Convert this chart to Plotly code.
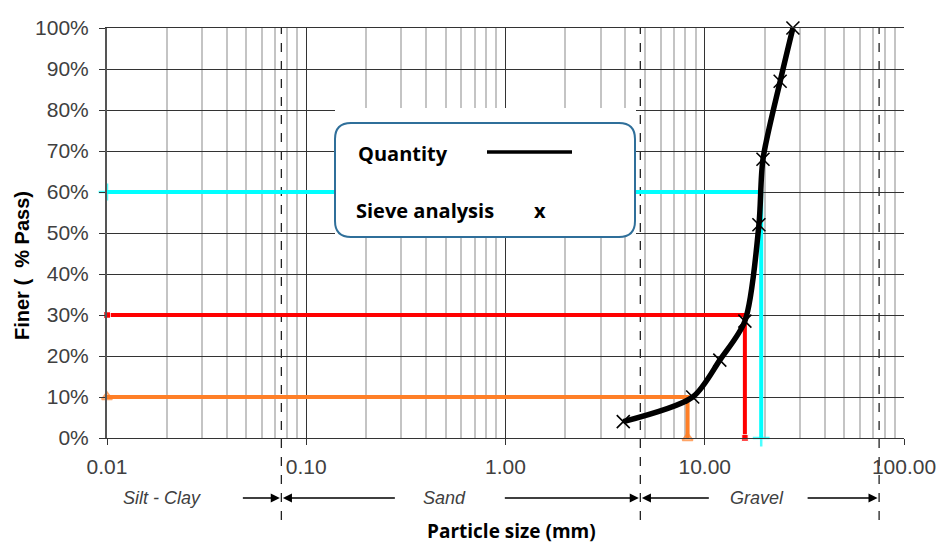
import numpy as np
import plotly.graph_objects as go

# ---- data ----
sieve_size_mm = [3.9, 8.7, 11.9, 15.9, 18.7, 19.6, 23.9, 27.7]
percent_passing = [4, 10, 19, 28.5, 52, 68, 87, 100]

d10, d30, d60 = 8.2, 15.9, 19.2
boundaries_mm = [0.075, 4.75, 75]

x_tickvals = [0.01, 0.1, 1, 10, 100]
x_ticktext = ["0.01", "0.10", "1.00", "10.00", "100.00"]
y_tickvals = [0, 10, 20, 30, 40, 50, 60, 70, 80, 90, 100]
y_ticktext = [f"{v}%" for v in y_tickvals]

zone_labels = ["Silt - Clay", "Sand", "Gravel"]

# ---- geometry helpers ----
W, H = 938, 543
ML, MR, MT, MB = 107, 34, 28, 105
PW, PH = W - ML - MR, H - MT - MB


def px(xp):
    return (xp - ML) / PW


def py(yp):
    return (H - MB - yp) / PH


fig = go.Figure()

# D-lines
fig.add_trace(go.Scatter(
    x=[0.01, d60, d60], y=[60, 60, 0], mode="lines+markers",
    line=dict(color="#00ffff", width=4),
    marker=dict(symbol="cross-thin-open", size=[12, 0, 12], line=dict(color="#00ffff", width=2.5)),
    cliponaxis=False, showlegend=False, hoverinfo="skip"))
fig.add_trace(go.Scatter(
    x=[0.01, d30, d30], y=[30, 30, 0], mode="lines+markers",
    line=dict(color="#ff0000", width=4),
    marker=dict(symbol="square", size=[7, 0, 7], color="#ff0000"),
    cliponaxis=False, showlegend=False, hoverinfo="skip"))
fig.add_trace(go.Scatter(
    x=[0.01, d10, d10], y=[10, 10, 0], mode="lines+markers",
    line=dict(color="#ff7f27", width=4),
    marker=dict(symbol="triangle-up-open", size=[9, 0, 9], line=dict(color="#ff7f27", width=2)),
    cliponaxis=False, showlegend=False, hoverinfo="skip"))

# gradation curve
fig.add_trace(go.Scatter(
    x=sieve_size_mm, y=percent_passing, mode="lines+markers",
    line=dict(color="black", width=5.5, shape="spline", smoothing=0.8),
    marker=dict(symbol="x-thin-open", size=13, line=dict(color="#333333", width=1.6)),
    cliponaxis=False, showlegend=False))

shapes = []
for b in boundaries_mm:
    shapes.append(dict(type="line", xref="x", yref="paper", x0=b, x1=b,
                       y0=py(520), y1=1, layer="between",
                       line=dict(color="#222222", width=1.3, dash="dash")))

# legend box (white patch + rounded border)
shapes.append(dict(type="rect", xref="paper", yref="paper",
                   x0=px(335), x1=px(636), y0=py(237), y1=py(108),
                   fillcolor="white", line=dict(width=0), layer="above"))
x0, x1, y0, y1 = px(335), px(635), py(237), py(123)
rx, ry = 16 / PW, 16 / PH
path = (f"M {x0+rx},{y0} L {x1-rx},{y0} Q {x1},{y0} {x1},{y0+ry} "
        f"L {x1},{y1-ry} Q {x1},{y1} {x1-rx},{y1} L {x0+rx},{y1} "
        f"Q {x0},{y1} {x0},{y1-ry} L {x0},{y0+ry} Q {x0},{y0} {x0+rx},{y0} Z")
shapes.append(dict(type="path", xref="paper", yref="paper", path=path,
                   fillcolor="white", line=dict(color="#2f6f9a", width=2), layer="above"))
shapes.append(dict(type="line", xref="paper", yref="paper",
                   x0=px(487), x1=px(572), y0=py(152), y1=py(152),
                   line=dict(color="black", width=3.5), layer="above"))

ann = []
lf = dict(family="Open Sans", size=20, color="black")
ann.append(dict(xref="paper", yref="paper", x=px(356), y=py(153), text="<b>Quantity</b>",
                showarrow=False, xanchor="left", yanchor="middle", font=lf))
ann.append(dict(xref="paper", yref="paper", x=px(354), y=py(211), text="<b>Sieve analysis</b>",
                showarrow=False, xanchor="left", yanchor="middle", font=lf))
ann.append(dict(xref="paper", yref="paper", x=px(540), y=py(211), text="<b>x</b>",
                showarrow=False, xanchor="center", yanchor="middle", font=lf))

# zone arrows
row_y = py(498)
arrow_specs = [(boundaries_mm[0], -40), (boundaries_mm[0], 115),
               (boundaries_mm[1], -137), (boundaries_mm[1], 70),
               (boundaries_mm[2], -73)]
for xb, off in arrow_specs:
    ann.append(dict(xref="x", yref="paper", x=np.log10(xb), y=row_y, ax=off, ay=0,
                    showarrow=True, arrowhead=2, arrowsize=1.3, arrowwidth=1.4,
                    arrowcolor="black", standoff=1.5, text=""))
zf = dict(family="Liberation Sans", size=18, color="#404040", style="italic")
for lab, xc in zip(zone_labels, [162, 444, 757]):
    ann.append(dict(xref="paper", yref="paper", x=px(xc), y=row_y, text=lab,
                    showarrow=False, xanchor="center", yanchor="middle", font=zf))

# axis titles
ann.append(dict(xref="paper", yref="paper", x=px(511), y=py(531), text="<b>Particle size (mm)</b>",
                showarrow=False, xanchor="center", yanchor="middle",
                font=dict(family="Open Sans", size=19, color="black")))
ann.append(dict(xref="paper", yref="paper", x=px(22), y=py(266), text="<b>Finer (  % Pass)</b>",
                showarrow=False, xanchor="center", yanchor="middle", textangle=-90,
                font=dict(family="Liberation Sans", size=20, color="black")))

minor_vals = [m * 10.0 ** e for e in range(-2, 2) for m in range(2, 10)]

fig.update_layout(
    width=W, height=H, margin=dict(l=ML, r=MR, t=MT, b=MB, autoexpand=False),
    paper_bgcolor="white", plot_bgcolor="white",
    shapes=shapes, annotations=ann, showlegend=False,
    font=dict(family="Liberation Sans", size=21, color="#404040"),
    xaxis=dict(type="log", range=[-2, 2], tickvals=x_tickvals, ticktext=x_ticktext,
               showgrid=True, gridcolor="#333333", gridwidth=1.3, automargin=False,
               minor=dict(tickvals=minor_vals, showgrid=True, gridcolor="#c4c4c4", gridwidth=1.6, ticks=""),
               ticks="outside", ticklen=6, tickcolor="#333333", tickwidth=1.3,
               showline=True, linecolor="#333333", linewidth=1.3, mirror=True,
               zeroline=False, ticklabelstandoff=4),
    yaxis=dict(range=[0, 100], tickvals=y_tickvals, ticktext=y_ticktext,
               showgrid=True, gridcolor="#333333", gridwidth=1.3, automargin=False,
               ticks="outside", ticklen=6, tickcolor="#333333", tickwidth=1.3,
               showline=True, linecolor="#555555", linewidth=2, mirror=False,
               zeroline=False, ticklabelstandoff=6),
)

fig.write_html("out.html")
